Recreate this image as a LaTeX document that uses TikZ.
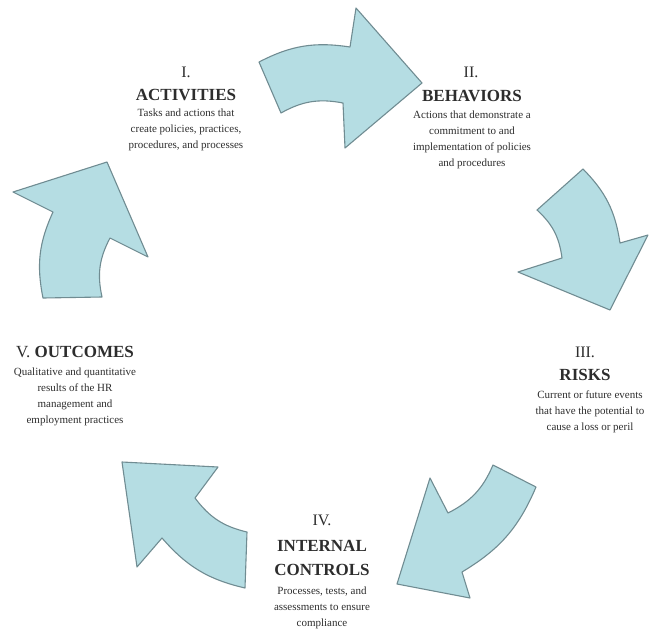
\documentclass[tikz,border=0pt]{standalone}
\usepackage{fontspec}
\setmainfont{Liberation Serif}
\definecolor{cycfill}{RGB}{181,221,227}
\definecolor{cycline}{RGB}{112,140,146}
\definecolor{labink}{RGB}{45,45,45}
\tikzset{
  cyc/.style={fill=cycfill, draw=cycline, line width=1.1pt, line join=round},
  num/.style={font=\fontsize{16}{18}\selectfont, text=labink, inner sep=0pt},
  head/.style={font=\fontsize{17}{24}\selectfont\bfseries, text=labink, align=center, inner sep=0pt},
  desc/.style={font=\fontsize{11}{16}\selectfont, text=labink, align=center, inner sep=0pt, anchor=north},
}

\begin{document}
\begin{tikzpicture}[x=1pt,y=-1pt]
\useasboundingbox (0,0) rectangle (649,633);

% curved arrows, clockwise
\draw[cyc] (259,62) to[bend left=18] (350,47) -- (356,8) -- (422,83) -- (345,148)
  -- (343,103) to[bend right=20] (281,113) -- cycle;
\draw[cyc] (583,169) to[bend left=18] (620,243) -- (648,235) -- (610,310) -- (518,272)
  -- (562,258) to[bend right=20] (537,210) -- cycle;
\draw[cyc] (536,487) to[bend left=18] (462,572) -- (470,598) -- (397,584) -- (430,478)
  -- (448,513) to[bend right=20] (493,465) -- cycle;
\draw[cyc] (245,588) to[bend left=18] (162,538) -- (137,567) -- (122,462) -- (218,467)
  -- (195,498) to[bend right=20] (247,532) -- cycle;
\draw[cyc] (43,298) to[bend left=18] (53,212) -- (13,192) -- (107,162) -- (148,257)
  -- (110,238) to[bend right=20] (102,297) -- cycle;

% I
\node[num] (act-num) at (186,72) {I.};
\node[head] (act-head) at (186,95) {ACTIVITIES};
\node[desc] (act-desc) at (186,109) {Tasks and actions that\\create policies, practices,\\procedures, and processes};

% II
\node[num] (beh-num) at (471,72) {II.};
\node[head] (beh-head) at (472,96) {BEHAVIORS};
\node[desc] (beh-desc) at (472,111) {Actions that demonstrate a\\commitment to and\\implementation of policies\\and procedures};

% III
\node[num] (risk-num) at (585,352) {III.};
\node[head] (risk-head) at (585,375) {RISKS};
\node[desc] (risk-desc) at (590,391) {Current or future events\\that have the potential to\\cause a loss or peril};

% IV
\node[num] (ctrl-num) at (322,520) {IV.};
\node[head] (ctrl-head) at (322,558) {INTERNAL\\CONTROLS};
\node[desc] (ctrl-desc) at (322,587) {Processes, tests, and\\assessments to ensure\\compliance};

% V
\node[head] (out-head) at (75,352) {\mdseries V. \bfseries OUTCOMES};
\node[desc] (out-desc) at (75,368) {Qualitative and quantitative\\results of the HR\\management and\\employment practices};
\end{tikzpicture}
\end{document}
